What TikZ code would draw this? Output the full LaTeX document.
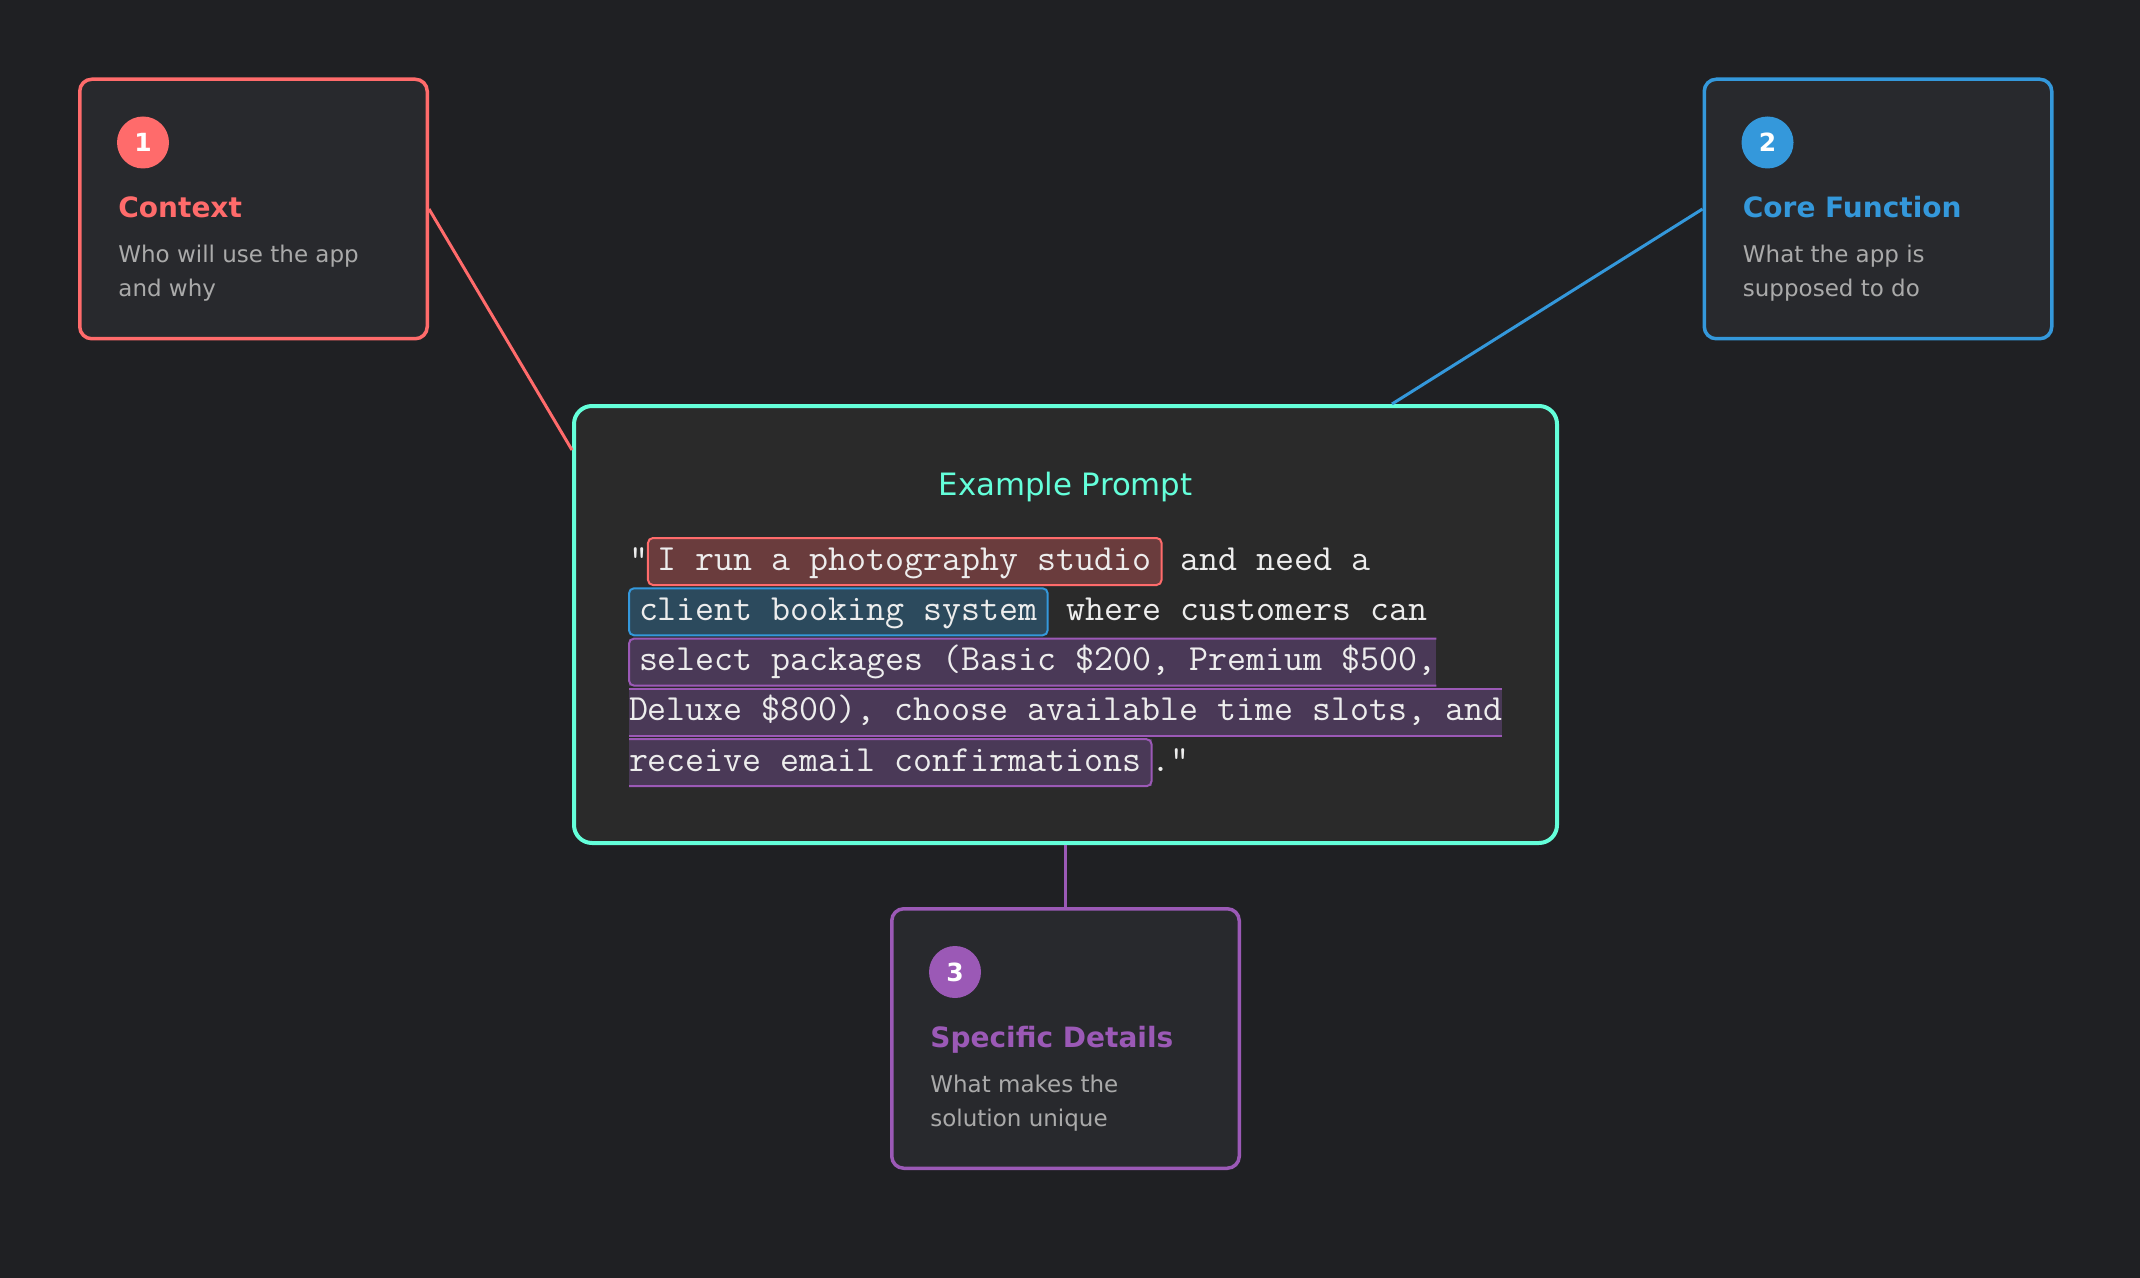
\documentclass[tikz,border=0pt]{standalone}
\usepackage{fontspec}
\setmainfont{DejaVu Sans}
\newfontfamily\promptmono{Latin Modern Mono}
\usepackage{tikz}
\usetikzlibrary{positioning}
\definecolor{PBPage}{HTML}{1F2023}
\definecolor{PBCard}{HTML}{28292D}
\definecolor{PBPromptBg}{HTML}{2A2A2A}
\definecolor{PBRed}{HTML}{FF6B6B}
\definecolor{PBBlue}{HTML}{3498DB}
\definecolor{PBPurple}{HTML}{9B59B6}
\definecolor{PBTeal}{HTML}{64FFDA}
\definecolor{PBGray}{HTML}{AAAAAA}
\definecolor{PBMonoText}{HTML}{EDEDED}
\definecolor{PBRedMark}{HTML}{6A3C3D}
\definecolor{PBBlueMark}{HTML}{2C4A5D}
\definecolor{PBPurpleMark}{HTML}{4A3957}
\tikzset{pbcard/.style={rounded corners=6pt, line width=1.75pt, fill=PBCard, minimum width=173.75pt, minimum height=129.75pt}, pbprompt/.style={rounded corners=9pt, line width=2pt, draw=PBTeal, fill=PBPromptBg, minimum width=491.5pt, minimum height=218.5pt}, pbbadge/.style={circle, inner sep=0pt, minimum size=26pt, text=white, font=\fontsize{12.5}{15}\selectfont\bfseries}, pbtitle/.style={anchor=base west, inner sep=0pt, font=\fontsize{14}{17}\selectfont\bfseries}, pbdesc/.style={anchor=north west, inner sep=0pt, align=left, text=PBGray, font=\fontsize{11.5}{17}\selectfont}, pbmono/.style={anchor=base west, inner sep=0pt, outer sep=0pt, text=PBMonoText, font=\promptmono\fontsize{18.43}{21}\selectfont}, pbmark/.style={pbmono, text height=16pt, text depth=7.5pt}, pbmarkbox/.style={pbmark, inner xsep=5pt, rounded corners=2.5pt, line width=1pt}, pbslice/.style={pbmark, fill=PBPurpleMark}, pbsliceline/.style={draw=PBPurple, line width=1pt, rounded corners=2.5pt}, pblink/.style={line width=1.5pt}}

\begin{document}
\begin{tikzpicture}[x=0.5pt, y=-0.5pt, node distance=31pt]
\fill[PBPage] (0,0) rectangle (2140,1278);
\node[pbcard, draw=PBRed] (ctx) at (253.5,209) {};
\node[pbbadge, fill=PBRed] (ctxnum) at ([shift={(65,65)}]ctx.north west) {1};
\node[pbtitle, text=PBRed] (ctxtitle) at ([shift={(40,140)}]ctx.north west) {Context};
\node[pbdesc] (ctxdesc) at ([shift={(40,167.5)}]ctx.north west) {Who will use the app\\and why};
\node[pbcard, draw=PBBlue] (core) at (1878,209) {};
\node[pbbadge, fill=PBBlue] (corenum) at ([shift={(65,65)}]core.north west) {2};
\node[pbtitle, text=PBBlue] (coretitle) at ([shift={(40,140)}]core.north west) {Core Function};
\node[pbdesc] (coredesc) at ([shift={(40,167.5)}]core.north west) {What the app is\\supposed to do};
\node[pbprompt] (prompt) at (1065.5,624.5) {};
\node[anchor=base, inner sep=0pt, text=PBTeal, font=\fontsize{15.4}{18}\selectfont] (prompttitle) at ([shift={(0,91)}]prompt.north) {Example Prompt};
\node[pbcard, draw=PBPurple, below=of prompt] (details) {};
\node[pbbadge, fill=PBPurple] (detailsnum) at ([shift={(65,65)}]details.north west) {3};
\node[pbtitle, text=PBPurple] (detailstitle) at ([shift={(40,140)}]details.north west) {Specific Details};
\node[pbdesc] (detailsdesc) at ([shift={(40,167.5)}]details.north west) {What makes the\\solution unique};
\node[pbmono] (quoteopen) at ([shift={(57,166)}]prompt.north west) {"};
\node[pbmarkbox, fill=PBRedMark, draw=PBRed] (mark1) at (quoteopen.base east) {I run a photography studio};
\node[pbmono] (rest1) at (mark1.base east) {~and need a};
\node[pbmarkbox, fill=PBBlueMark, draw=PBBlue] (mark2) at ([shift={(57,216.3)}]prompt.north west) {client booking system};
\node[pbmono] (rest2) at (mark2.base east) {~where customers can};
\node[pbslice] (mark3) at ([shift={(57,266.6)}]prompt.north west) {\hspace*{5pt}select packages (Basic \$200, Premium \$500,};
\node[pbslice] (mark4) at ([shift={(57,316.9)}]prompt.north west) {Deluxe \$800), choose available time slots, and};
\node[pbslice] (mark5) at ([shift={(57,367.2)}]prompt.north west) {receive email confirmations\hspace*{5pt}};
\node[pbmono] (quoteclose) at (mark5.base east) {."};
\draw[pbsliceline] (mark3.north east) -- (mark3.north west) -- (mark3.south west) -- (mark3.south east);
\draw[pbsliceline] (mark4.north west) -- (mark4.north east) (mark4.south west) -- (mark4.south east);
\draw[pbsliceline] (mark5.north west) -- (mark5.north east) -- (mark5.south east) -- (mark5.south west);
\coordinate (ctxhit) at ([shift={(0,-174.5)}]prompt.west);
\coordinate (corehit) at ([shift={(326.5,0)}]prompt.north);
\draw[pblink, draw=PBRed] (ctx.east) -- (ctxhit);
\draw[pblink, draw=PBBlue] (core.west) -- (corehit);
\draw[pblink, draw=PBPurple] (prompt.south) -- (details.north);
\end{tikzpicture}
\end{document}
